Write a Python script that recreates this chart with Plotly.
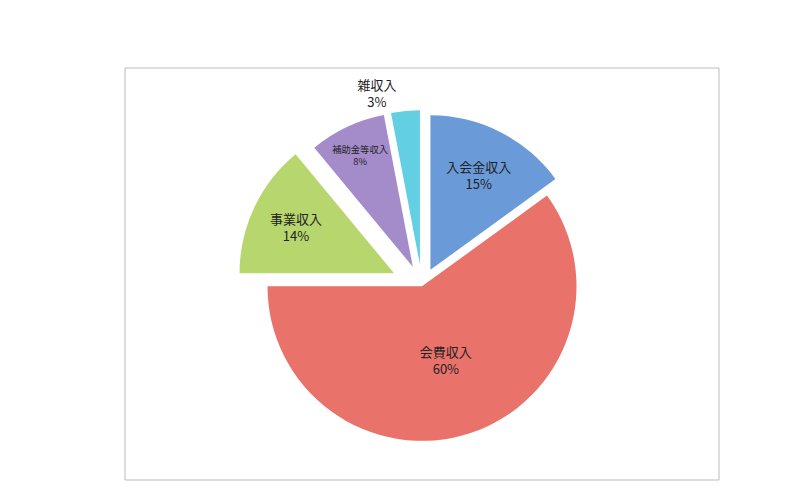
import plotly.graph_objects as go

labels = ["入会金収入", "会費収入", "事業収入", "補助金等収入", "雑収入"]
values = [15, 60, 14, 8, 3]
colors = ["#6A9BD8", "#E9726B", "#B7D66E", "#A48CCB", "#62CFE3"]
pulls = [0.12, 0, 0.2, 0.14, 0.14]
positions = ["inside", "inside", "inside", "inside", "outside"]

fig = go.Figure(go.Pie(
    labels=labels,
    values=values,
    sort=False,
    direction="clockwise",
    rotation=0,
    pull=pulls,
    marker=dict(colors=colors, line=dict(color="#ffffff", width=0)),
    texttemplate="%{label}<br>%{percent:.0%}",
    textposition=positions,
    insidetextorientation="horizontal",
    outsidetextfont=dict(family="Noto Sans CJK JP", size=13, color="#222222"),
    textfont=dict(family="Noto Sans CJK JP", size=13, color="#222222"),
    domain=dict(x=[0.05, 0.95], y=[0.02, 0.92]),
    showlegend=False,
))

fig.update_layout(
    width=800, height=500,
    paper_bgcolor="white",
    margin=dict(l=2, r=2, t=2, b=2),
    shapes=[dict(type="rect", xref="paper", yref="paper", x0=0, y0=0,
                 x1=1, y1=1, line=dict(color="#bbbbbb", width=1))],
)

fig.write_html("out.html")
